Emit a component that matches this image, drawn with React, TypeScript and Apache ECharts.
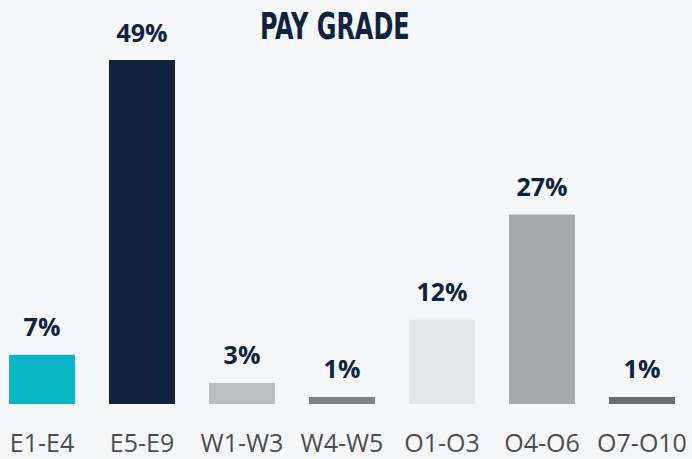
import React, { useEffect, useRef } from "react";
import * as echarts from "echarts";

const categories = ["E1-E4", "E5-E9", "W1-W3", "W4-W5", "O1-O3", "O4-O6", "O7-O10"];
const values = [7, 49, 3, 1, 12, 27, 1];
const colors = ["#0ab5c8", "#0f2340", "#bcbdc0", "#808285", "#e6e7e8", "#a7a9ac", "#6d6e71"];
const title = "PAY GRADE";

export default function App() {
  const ref = useRef<HTMLDivElement>(null);
  useEffect(() => {
    if (!ref.current) return;
    const chart = echarts.init(ref.current, null, { renderer: "svg" });
    chart.setOption({
      animation: false,
      backgroundColor: "#f5f7f9",
      graphic: [
        {
          type: "text",
          left: 268,
          top: 8,
          scaleX: 0.72,
          style: {
            text: title,
            fill: "#0f2340",
            font: "bold 37px 'DejaVu Sans Condensed'",
          },
        },
      ],
      grid: { left: 0, right: 0, top: 0, bottom: 55, containLabel: false },
      xAxis: {
        type: "category",
        data: categories,
        axisLine: { show: false },
        axisTick: { show: false },
        axisLabel: {
          color: "#4d4d4d",
          fontFamily: "Open Sans",
          fontSize: 25,
          lineHeight: 25,
          margin: 25,
          interval: 0,
        },
      },
      yAxis: { type: "value", min: 0, max: 57.55, show: false, splitLine: { show: false } },
      series: [
        {
          type: "bar",
          barWidth: 66,
          data: values.map((v, i) => ({ value: v, itemStyle: { color: colors[i] } })),
          label: {
            show: true,
            position: "top",
            distance: 16,
            formatter: "{c}%",
            color: "#0f2340",
            fontFamily: "Open Sans",
            fontWeight: "bold",
            fontSize: 25,
          },
        },
      ],
    });
    return () => chart.dispose();
  }, []);
  return <div ref={ref} style={{ position: "absolute", left: -8, top: 0, width: 700, height: 459 }} />;
}
